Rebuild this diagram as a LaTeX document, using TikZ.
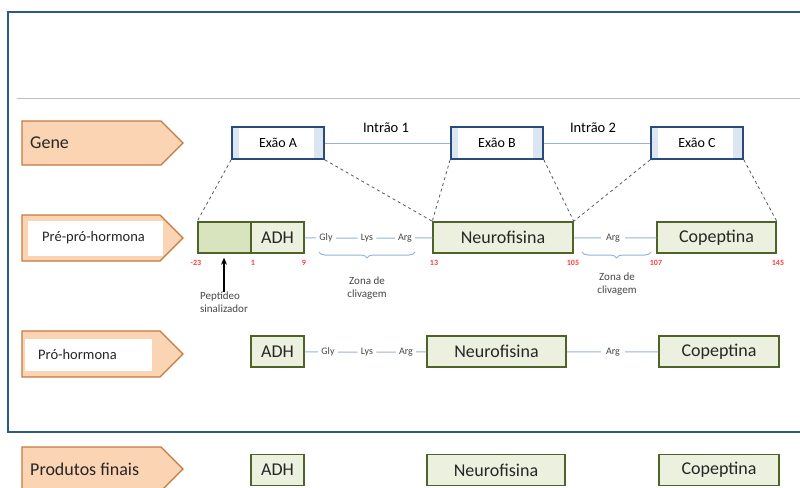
\documentclass[tikz,border=0pt]{standalone}
\usepackage{fontspec}
\setmainfont{Carlito}
\usetikzlibrary{shapes.symbols,decorations.pathreplacing,arrows.meta}

\definecolor{framebl}{RGB}{46,88,136}
\definecolor{peach}{RGB}{251,212,180}
\definecolor{peachdk}{RGB}{196,122,60}
\definecolor{exonbl}{RGB}{40,75,122}
\definecolor{exstrip}{RGB}{220,230,242}
\definecolor{intronbl}{RGB}{149,179,215}
\definecolor{protgr}{RGB}{79,98,40}
\definecolor{protlt}{RGB}{235,241,222}
\definecolor{protdk}{RGB}{215,228,189}
\definecolor{numred}{RGB}{255,60,60}
\definecolor{aagrey}{RGB}{70,70,70}

\begin{document}
\begin{tikzpicture}[x=1pt,y=-1pt,
    stage/.style={signal, signal to=east, signal pointer angle=90, draw=peachdk, fill=peach, anchor=west,
        line width=1.4pt, minimum width=161pt, minimum height=44pt, inner sep=0pt, outer sep=0pt},
    stagetxt/.style={anchor=west, inner sep=0pt, text=black!85},
    inbox/.style={fill=white, inner sep=0pt, anchor=west},
    exon/.style={draw=exonbl, line width=1.8pt, fill=white, minimum width=92pt, minimum height=32pt,
        inner sep=0pt, font=\fontsize{14}{16}\selectfont,
        path picture={\fill[exstrip] (path picture bounding box.south west) rectangle ([xshift=7pt]path picture bounding box.north west);
            \fill[exstrip] (path picture bounding box.south east) rectangle ([xshift=-10pt]path picture bounding box.north east);}},
    prot/.style={draw=protgr, line width=1.5pt, fill=protlt, minimum height=31pt, inner sep=0pt,
        font=\fontsize{18}{20}\selectfont, text=black!85},
    aa/.style={inner sep=3pt, text=aagrey, font=\fontsize{10}{12}\selectfont},
    num/.style={inner sep=0pt, text=numred, font=\fontsize{8}{9}\selectfont\bfseries},
    note/.style={inner sep=0pt, align=center, text=aagrey, font=\fontsize{11}{12.5}\selectfont},
    link/.style={draw=intronbl, line width=1pt},
    proj/.style={draw=black!65, dashed, line width=0.8pt},
    clamp/.style={draw=intronbl, line width=1pt, decorate, decoration={brace, mirror, amplitude=6pt}}]
% canvas
\useasboundingbox (0,0) rectangle (800,487);
\draw[framebl, line width=2.6pt] (8,12) rectangle (815,432);
\draw[black!25, line width=0.8pt] (17,98) -- (800,98);
% stage labels
\node[stage] (gene) at (22,143) {};
\node[stagetxt, font=\fontsize{18}{20}\selectfont] (genet) at (30,143) {Gene};
\node[stage, minimum height=46pt] (ppro) at (22,238) {};
\node[inbox, minimum width=135pt, minimum height=35pt] (pprob) at (28,238) {};
\node[stagetxt, font=\fontsize{14.5}{16}\selectfont] (pprot) at (42,238) {Pré-pró-hormona};
\node[stage, minimum height=46pt] (pro) at (22,354) {};
\node[inbox, minimum width=127pt, minimum height=32pt] (prob) at (25,355) {};
\node[stagetxt, font=\fontsize{14.5}{16}\selectfont] (prot) at (38,355) {Pró-hormona};
\node[stage] (fin) at (22,469) {};
\node[stagetxt, font=\fontsize{18}{20}\selectfont] (fint) at (30,469) {Produtos finais};
% gene
\node[exon] (exA) at (278,143) {Exão A};
\node[exon] (exB) at (497,143) {Exão B};
\node[exon] (exC) at (697,143) {Exão C};
\draw[link] (exA) -- (exB);
\draw[link] (exB) -- (exC);
\node[inner sep=0pt, font=\fontsize{14.5}{16}\selectfont] (in1) at (386,128) {Intrão 1};
\node[inner sep=0pt, font=\fontsize{14.5}{16}\selectfont] (in2) at (593,128) {Intrão 2};
% pre-pro-hormone
\node[prot, fill=protdk, minimum width=53pt] (sig) at (224.5,237.5) {};
\node[prot, minimum width=53pt] (adh1) at (277.5,237.5) {ADH};
\node[aa] (gly1) at (326,238) {Gly};
\node[aa] (lys1) at (367,238) {Lys};
\node[aa] (arg1) at (405,238) {Arg};
\node[prot, minimum width=140pt] (neu1) at (503,237.5) {Neurofisina};
\node[aa, inner sep=5pt] (arg2) at (613,238) {Arg};
\node[prot, minimum width=119pt] (cop1) at (716.5,237.5) {Copeptina};
\draw[link] (adh1) -- (gly1) -- (lys1) -- (arg1) -- (neu1);
\draw[link] (neu1) -- (arg2) -- (cop1);
\node[num] (n1) at (196,263) {-23};
\node[num] (n2) at (253,263) {1};
\node[num] (n3) at (304,263) {9};
\node[num] (n4) at (434,263) {13};
\node[num] (n5) at (573,263) {105};
\node[num] (n6) at (656,263) {107};
\node[num] (n7) at (778,263) {145};
\draw[proj] (exA.south west) -- (sig.north west);
\draw[proj] (exA.south east) -- (neu1.north west);
\draw[proj] (exB.south west) -- (neu1.north west);
\draw[proj] (exB.south east) -- (neu1.north east);
\draw[proj] (exC.south west) -- (neu1.north east);
\draw[proj] (exC.south east) -- (cop1.north east);
\coordinate (z1a) at (319,252);
\coordinate (z1b) at (415,252);
\coordinate (z2a) at (582,252);
\coordinate (z2b) at (651,252);
\draw[clamp] (z1a) -- (z1b);
\draw[clamp] (z2a) -- (z2b);
\node[note] (zona1) at (367,288) {Zona de\\clivagem};
\node[note] (zona2) at (617,284) {Zona de\\clivagem};
\node[note, align=left] (pept) at (224,302) {Peptídeo\\sinalizador};
\draw[-{Stealth[length=7pt,width=6pt]}, line width=1.4pt] (pept.north) -- ([yshift=-4pt]pept.north |- sig.south);
% pro-hormone
\node[prot, minimum width=53pt] (adh2) at (277.5,351.5) {ADH};
\node[aa] (gly2) at (328,352) {Gly};
\node[aa] (lys2) at (367,352) {Lys};
\node[aa] (arg3) at (406,352) {Arg};
\node[prot, minimum width=139pt] (neu2) at (496.5,351.5) {Neurofisina};
\node[aa, inner sep=5pt] (arg4) at (613,352) {Arg};
\node[prot, minimum width=120pt] (cop2) at (719,351.5) {Copeptina};
\draw[link] (adh2) -- (gly2) -- (lys2) -- (arg3) -- (neu2);
\draw[link] (neu2) -- (arg4) -- (cop2);
% final products
\node[prot, minimum width=53pt] (adh3) at (277.5,470) {ADH};
\node[prot, minimum width=138pt] (neu3) at (496,470) {Neurofisina};
\node[prot, minimum width=120pt] (cop3) at (719,470) {Copeptina};
\end{tikzpicture}
\end{document}
